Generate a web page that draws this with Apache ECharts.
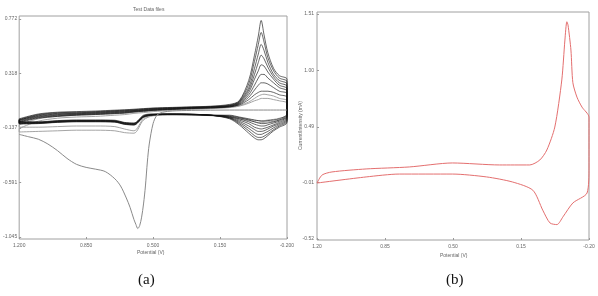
<!DOCTYPE html>
<html>
<head>
<meta charset="utf-8">
<script src="https://cdn.jsdelivr.net/npm/echarts@6/dist/echarts.min.js"></script>
<style>
  html, body { margin: 0; padding: 0; background: #fff; }
  #chart { width: 598px; height: 296px; }
</style>
</head>
<body>
<div id="chart"></div>
<script>
// ---- (a) data: potential grid shared by all cycles ----
var potentialGrid = [1.2, 1.1, 1.0, 0.9, 0.8, 0.7, 0.65, 0.6, 0.55, 0.5, 0.4, 0.3, 0.2, 0.1, 0.05, 0.0, -0.03, -0.05, -0.065, -0.08, -0.1, -0.13, -0.16, -0.2];

// anodic (upper) branches, one per cycle
var upperCycles = [
  [-0.06, -0.02, -0.005, 0.0, 0.005, 0.012, 0.015, 0.02, 0.025, 0.03, 0.035, 0.04, 0.045, 0.06, 0.09, 0.26, 0.47, 0.63, 0.76, 0.64, 0.49, 0.36, 0.30, 0.27],
  [-0.065, -0.025, -0.01, -0.005, 0.0, 0.008, 0.012, 0.016, 0.022, 0.027, 0.032, 0.037, 0.042, 0.055, 0.085, 0.23, 0.42, 0.56, 0.66, 0.58, 0.45, 0.34, 0.28, 0.25],
  [-0.07, -0.03, -0.015, -0.01, -0.004, 0.004, 0.008, 0.012, 0.018, 0.024, 0.03, 0.035, 0.04, 0.05, 0.08, 0.20, 0.36, 0.48, 0.56, 0.51, 0.41, 0.31, 0.26, 0.23],
  [-0.07, -0.035, -0.02, -0.014, -0.008, 0.0, 0.004, 0.009, 0.015, 0.021, 0.027, 0.033, 0.038, 0.05, 0.075, 0.18, 0.31, 0.41, 0.47, 0.44, 0.37, 0.29, 0.24, 0.21],
  [-0.075, -0.04, -0.025, -0.018, -0.012, -0.004, 0.0, 0.006, 0.012, 0.018, 0.025, 0.031, 0.036, 0.045, 0.07, 0.16, 0.27, 0.34, 0.39, 0.38, 0.33, 0.27, 0.22, 0.19],
  [-0.08, -0.045, -0.03, -0.022, -0.016, -0.008, -0.004, 0.003, 0.009, 0.015, 0.022, 0.029, 0.034, 0.045, 0.065, 0.14, 0.22, 0.28, 0.31, 0.31, 0.28, 0.24, 0.20, 0.17],
  [-0.085, -0.05, -0.035, -0.026, -0.02, -0.012, -0.008, 0.0, 0.006, 0.012, 0.02, 0.027, 0.032, 0.04, 0.06, 0.12, 0.18, 0.22, 0.24, 0.24, 0.23, 0.20, 0.17, 0.15],
  [-0.09, -0.055, -0.04, -0.03, -0.024, -0.016, -0.012, -0.003, 0.003, 0.01, 0.018, 0.025, 0.03, 0.04, 0.055, 0.10, 0.14, 0.16, 0.17, 0.17, 0.17, 0.16, 0.14, 0.12]
];
// cathodic (lower) branches, same order as potentialGrid
var lowerCycles = [
  [-0.08, -0.085, -0.075, -0.07, -0.07, -0.072, -0.09, -0.095, -0.03, -0.02, -0.02, -0.022, -0.03, -0.06, -0.11, -0.18, -0.22, -0.235, -0.235, -0.225, -0.20, -0.16, -0.13, -0.09],
  [-0.085, -0.088, -0.078, -0.073, -0.073, -0.076, -0.093, -0.098, -0.035, -0.022, -0.02, -0.022, -0.03, -0.055, -0.10, -0.16, -0.20, -0.215, -0.215, -0.205, -0.185, -0.15, -0.12, -0.08],
  [-0.09, -0.09, -0.08, -0.075, -0.075, -0.078, -0.095, -0.10, -0.038, -0.024, -0.02, -0.022, -0.03, -0.052, -0.09, -0.14, -0.175, -0.19, -0.19, -0.18, -0.165, -0.135, -0.11, -0.07],
  [-0.092, -0.092, -0.082, -0.077, -0.077, -0.08, -0.097, -0.102, -0.04, -0.025, -0.021, -0.023, -0.03, -0.05, -0.08, -0.12, -0.15, -0.165, -0.165, -0.16, -0.145, -0.12, -0.10, -0.06],
  [-0.095, -0.094, -0.084, -0.079, -0.079, -0.082, -0.1, -0.105, -0.042, -0.026, -0.022, -0.024, -0.03, -0.045, -0.07, -0.10, -0.13, -0.14, -0.145, -0.14, -0.13, -0.11, -0.09, -0.05],
  [-0.098, -0.096, -0.086, -0.081, -0.081, -0.084, -0.102, -0.108, -0.044, -0.027, -0.023, -0.025, -0.03, -0.04, -0.06, -0.085, -0.105, -0.115, -0.12, -0.12, -0.11, -0.095, -0.08, -0.04],
  [-0.1, -0.098, -0.088, -0.083, -0.083, -0.086, -0.104, -0.11, -0.046, -0.028, -0.024, -0.026, -0.03, -0.035, -0.05, -0.07, -0.085, -0.095, -0.10, -0.10, -0.095, -0.085, -0.07, -0.03],
  [-0.103, -0.1, -0.09, -0.085, -0.085, -0.088, -0.106, -0.112, -0.048, -0.029, -0.025, -0.027, -0.03, -0.03, -0.045, -0.06, -0.07, -0.075, -0.08, -0.08, -0.075, -0.07, -0.06, -0.02]
];
// two lighter early cycles sitting lower at the left
var upperGray = [
  [-0.11, -0.06, -0.04, -0.03, -0.025, -0.018, -0.014, -0.006, 0.0, 0.008, 0.016, 0.023, 0.028, 0.038, 0.05, 0.08, 0.11, 0.13, 0.14, 0.145, 0.14, 0.13, 0.11, 0.09],
  [-0.14, -0.08, -0.055, -0.045, -0.04, -0.03, -0.025, -0.015, -0.008, 0.0, 0.01, 0.018, 0.024, 0.034, 0.045, 0.07, 0.09, 0.10, 0.11, 0.11, 0.11, 0.10, 0.09, 0.07]
];
var lowerGray = [
  [-0.13, -0.13, -0.125, -0.12, -0.12, -0.125, -0.145, -0.16, -0.06, -0.03, -0.025, -0.026, -0.032, -0.045, -0.06, -0.075, -0.085, -0.09, -0.09, -0.09, -0.085, -0.08, -0.07, -0.04],
  [-0.17, -0.165, -0.16, -0.155, -0.155, -0.16, -0.175, -0.18, -0.07, -0.035, -0.028, -0.028, -0.034, -0.042, -0.055, -0.065, -0.072, -0.075, -0.075, -0.075, -0.07, -0.065, -0.055, -0.03]
];
// first scan with the large reduction peak
var firstScanPotential = [1.2, 1.15, 1.1, 1.05, 1.0, 0.95, 0.9, 0.85, 0.8, 0.75, 0.7, 0.67, 0.64, 0.62, 0.6, 0.59, 0.58, 0.57, 0.56, 0.55, 0.54, 0.53, 0.52, 0.5, 0.48, 0.45, 0.4, 0.3, 0.2, 0.1, 0.0, -0.1, -0.2];
var firstScanCurrent = [-0.19, -0.21, -0.23, -0.27, -0.325, -0.39, -0.44, -0.465, -0.48, -0.5, -0.56, -0.62, -0.72, -0.8, -0.9, -0.94, -0.975, -0.95, -0.88, -0.77, -0.62, -0.42, -0.27, -0.1, -0.03, -0.005, 0.005, 0.01, 0.012, 0.013, 0.013, 0.013, 0.013];

var ticksA_y = [-1.045, -0.591, -0.137, 0.318, 0.772];
var ticksA_x = [1.2, 0.85, 0.5, 0.15, -0.2];

// ---- (b) data ----
var redPotential = [1.2, 1.174, 1.123, 0.947, 0.725, 0.503, 0.26, 0.105, 0.053, 0.017, -0.024, -0.06, -0.076, -0.086, -0.092, -0.107, -0.117, -0.138, -0.164, -0.2, -0.2, -0.19, -0.117, -0.066, -0.035, 0.001, 0.038, 0.089, 0.193, 0.327, 0.503, 0.776, 0.947, 1.2];
var redCurrent = [-0.015, 0.057, 0.085, 0.112, 0.13, 0.166, 0.148, 0.148, 0.193, 0.283, 0.49, 0.915, 1.275, 1.44, 1.41, 1.185, 0.89, 0.76, 0.67, 0.58, 0.12, -0.105, -0.195, -0.32, -0.39, -0.375, -0.26, -0.08, -0.006, 0.04, 0.066, 0.066, 0.04, -0.015];

var ticksB_y = [-0.52, -0.01, 0.49, 1.0, 1.51];
var ticksB_x = [1.2, 0.85, 0.5, 0.15, -0.2];

function loop(up, down) {
  var pts = [];
  for (var i = 0; i < potentialGrid.length; i++) pts.push([potentialGrid[i], up[i]]);
  for (var j = potentialGrid.length - 1; j >= 0; j--) pts.push([potentialGrid[j], down[j]]);
  pts.push([potentialGrid[0], up[0]]);
  return pts;
}
function zip(a, b) {
  return a.map(function (v, i) { return [v, b[i]]; });
}

var labelStyle = { fontSize: 5, color: '#666', fontFamily: 'Liberation Sans' };

var series = [];
// gray early cycles first so black ones draw on top
upperGray.forEach(function (up, k) {
  series.push({
    type: 'line', xAxisIndex: 0, yAxisIndex: 0, showSymbol: false, smooth: 0.3,
    lineStyle: { color: '#9a9a9a', width: 0.9 },
    data: loop(up, lowerGray[k])
  });
});
upperCycles.forEach(function (up, k) {
  series.push({
    type: 'line', xAxisIndex: 0, yAxisIndex: 0, showSymbol: false, smooth: 0.3,
    lineStyle: { color: '#111', width: 0.8, opacity: 0.8 },
    data: loop(up, lowerCycles[k])
  });
});
series.push({
  type: 'line', xAxisIndex: 0, yAxisIndex: 0, showSymbol: false, smooth: 0.3,
  lineStyle: { color: '#8a8a8a', width: 1 },
  data: zip(firstScanPotential, firstScanCurrent)
});
series.push({
  type: 'line', xAxisIndex: 1, yAxisIndex: 1, showSymbol: false, smooth: 0.25,
  lineStyle: { color: '#e46f6f', width: 1 },
  data: zip(redPotential, redCurrent)
});

var chart = echarts.init(document.getElementById('chart'));
chart.setOption({
  animation: false,
  backgroundColor: '#fff',
  grid: [
    { left: 14, right: 311, top: 16, bottom: 57, show: true, borderColor: '#a0a0a0', borderWidth: 1 },
    { left: 317, right: 9, top: 12, bottom: 56, show: true, borderColor: '#a0a0a0', borderWidth: 1 }
  ],
  xAxis: [
    {
      gridIndex: 0, type: 'value', inverse: true, min: -0.2, max: 1.2,
      axisLine: { show: false, onZero: false }, splitLine: { show: false },
      axisTick: { inside: true, length: 2, lineStyle: { color: '#999' }, customValues: ticksA_x },
      axisLabel: Object.assign({ margin: 4, customValues: ticksA_x, formatter: function (v) { return v.toFixed(3); } }, labelStyle)
    },
    {
      gridIndex: 1, type: 'value', inverse: true, min: -0.2, max: 1.2,
      axisLine: { show: false, onZero: false }, splitLine: { show: false },
      axisTick: { inside: true, length: 2, lineStyle: { color: '#999' }, customValues: ticksB_x },
      axisLabel: Object.assign({ margin: 4, customValues: ticksB_x, formatter: function (v) { return v.toFixed(2); } }, labelStyle)
    }
  ],
  yAxis: [
    {
      gridIndex: 0, type: 'value', min: -1.062, max: 0.797,
      axisLine: { show: false, onZero: false }, splitLine: { show: false },
      axisTick: { inside: true, length: 2, lineStyle: { color: '#999' }, customValues: ticksA_y },
      axisLabel: Object.assign({ margin: 2, customValues: ticksA_y, formatter: function (v) { return v.toFixed(3); } }, labelStyle)
    },
    {
      gridIndex: 1, type: 'value', min: -0.529, max: 1.528,
      axisLine: { show: false, onZero: false }, splitLine: { show: false },
      axisTick: { inside: true, length: 2, lineStyle: { color: '#999' }, customValues: ticksB_y },
      axisLabel: Object.assign({ margin: 3, customValues: ticksB_y, formatter: function (v) { return v.toFixed(2); } }, labelStyle)
    }
  ],
  graphic: [
    { type: 'text', left: 133, top: 7, style: { text: 'Test Data files', fontSize: 5, fill: '#666', fontFamily: 'Liberation Sans' } },
    { type: 'text', left: 137, top: 250, style: { text: 'Potential (V)', fontSize: 5, fill: '#666', fontFamily: 'Liberation Sans' } },
    { type: 'text', left: 440, top: 253, style: { text: 'Potential (V)', fontSize: 5, fill: '#666', fontFamily: 'Liberation Sans' } },
    { type: 'text', x: 298, y: 150, rotation: Math.PI / 2, style: { text: 'Current/Intensity (mA)', fontSize: 5, fill: '#666', fontFamily: 'Liberation Sans' } },
    { type: 'text', left: 138, top: 273, style: { text: '(a)', fontSize: 15, fill: '#111', fontFamily: 'Liberation Serif' } },
    { type: 'text', left: 446, top: 273, style: { text: '(b)', fontSize: 15, fill: '#111', fontFamily: 'Liberation Serif' } }
  ],
  series: series
});
</script>
</body>
</html>
